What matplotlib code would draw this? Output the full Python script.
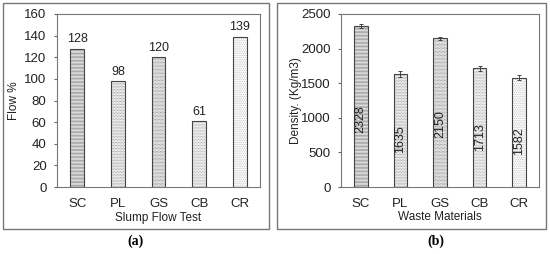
import matplotlib
matplotlib.use("Agg")
import matplotlib.pyplot as plt
from matplotlib.patches import Rectangle
import numpy as np

plt.rcParams['font.family'] = ['Liberation Sans', 'DejaVu Sans']
plt.rcParams['hatch.linewidth'] = 0.5

categories = ["SC", "PL", "GS", "CB", "CR"]
flow = [128, 98, 120, 61, 139]
density = [2328, 1635, 2150, 1713, 1582]
density_err = [25, 40, 20, 30, 30]

hatches = ['-' * 12, '.' * 11, '.' * 12, '.' * 11, '.' * 9]
hatch_colors = ['#888888', '#888888', '#777777', '#999999', '#bbbbbb']

fig = plt.figure(figsize=(5.5, 2.54), dpi=100)

for x0, x1 in [(3, 269), (277, 546)]:
    fig.patches.append(Rectangle((x0 / 550, 1 - 229 / 254), (x1 - x0) / 550, 226 / 254,
                                 transform=fig.transFigure, fill=False,
                                 edgecolor='#777777', linewidth=1.0))

ax1 = fig.add_axes([57 / 550, 1 - 187 / 254, 203 / 550, 173 / 254])
ax2 = fig.add_axes([341 / 550, 1 - 187 / 254, 198 / 550, 173 / 254])

x = np.arange(len(categories))
w = 0.34

def draw_bars(ax, vals, err=None):
    for i, v in enumerate(vals):
        ax.bar(x[i], v, width=w, color='white', edgecolor=hatch_colors[i],
               hatch=hatches[i], linewidth=0, zorder=2)
        ax.bar(x[i], v, width=w, fill=False, edgecolor='#444444', linewidth=0.8, zorder=3)
    if err is not None:
        ax.errorbar(x, vals, yerr=err, fmt='none', ecolor='#444444',
                    elinewidth=0.7, capsize=1.5, capthick=0.7, zorder=4)

draw_bars(ax1, flow)
draw_bars(ax2, density, density_err)

fs = 9
for i, v in enumerate(flow):
    ax1.text(x[i], v + 3, str(v), ha='center', va='bottom', fontsize=fs, color='#222222')
for i, v in enumerate(density):
    ax2.text(x[i], v * 0.42, str(v), ha='center', va='center', rotation=90,
             fontsize=fs, color='#222222', zorder=5)

for ax, ylim, step, ylabel, xlabel, lx in [
        (ax1, 160, 20, 'Flow %', 'Slump Flow Test', -0.182),
        (ax2, 2500, 500, 'Density. (Kg/m3)', 'Waste Materials', -0.195)]:
    ax.set_xlim(-0.5, len(categories) - 0.5)
    ax.set_ylim(0, ylim)
    ax.set_yticks(np.arange(0, ylim + 1, step))
    ax.set_xticks(x)
    ax.set_xticklabels(categories)
    ax.tick_params(axis='x', labelsize=9.5, colors='#222222', length=0, pad=8)
    ax.tick_params(axis='y', labelsize=9.5, colors='#222222', length=2.5,
                   color='#666666', direction='out', pad=5)
    for s in ax.spines.values():
        s.set_color('#777777')
        s.set_linewidth(0.8)
    ax.set_ylabel(ylabel, fontsize=8.5, color='#222222')
    ax.yaxis.set_label_coords(lx, 0.5)
    ax.set_xlabel(xlabel, fontsize=8.5, color='#222222', labelpad=1)

fig.text(136 / 550, 1 - 241 / 254, '(a)', ha='center', va='center',
         fontsize=10, fontweight='bold', family='Liberation Serif')
fig.text(436 / 550, 1 - 241 / 254, '(b)', ha='center', va='center',
         fontsize=10, fontweight='bold', family='Liberation Serif')

fig.savefig('out.png', dpi=100)
